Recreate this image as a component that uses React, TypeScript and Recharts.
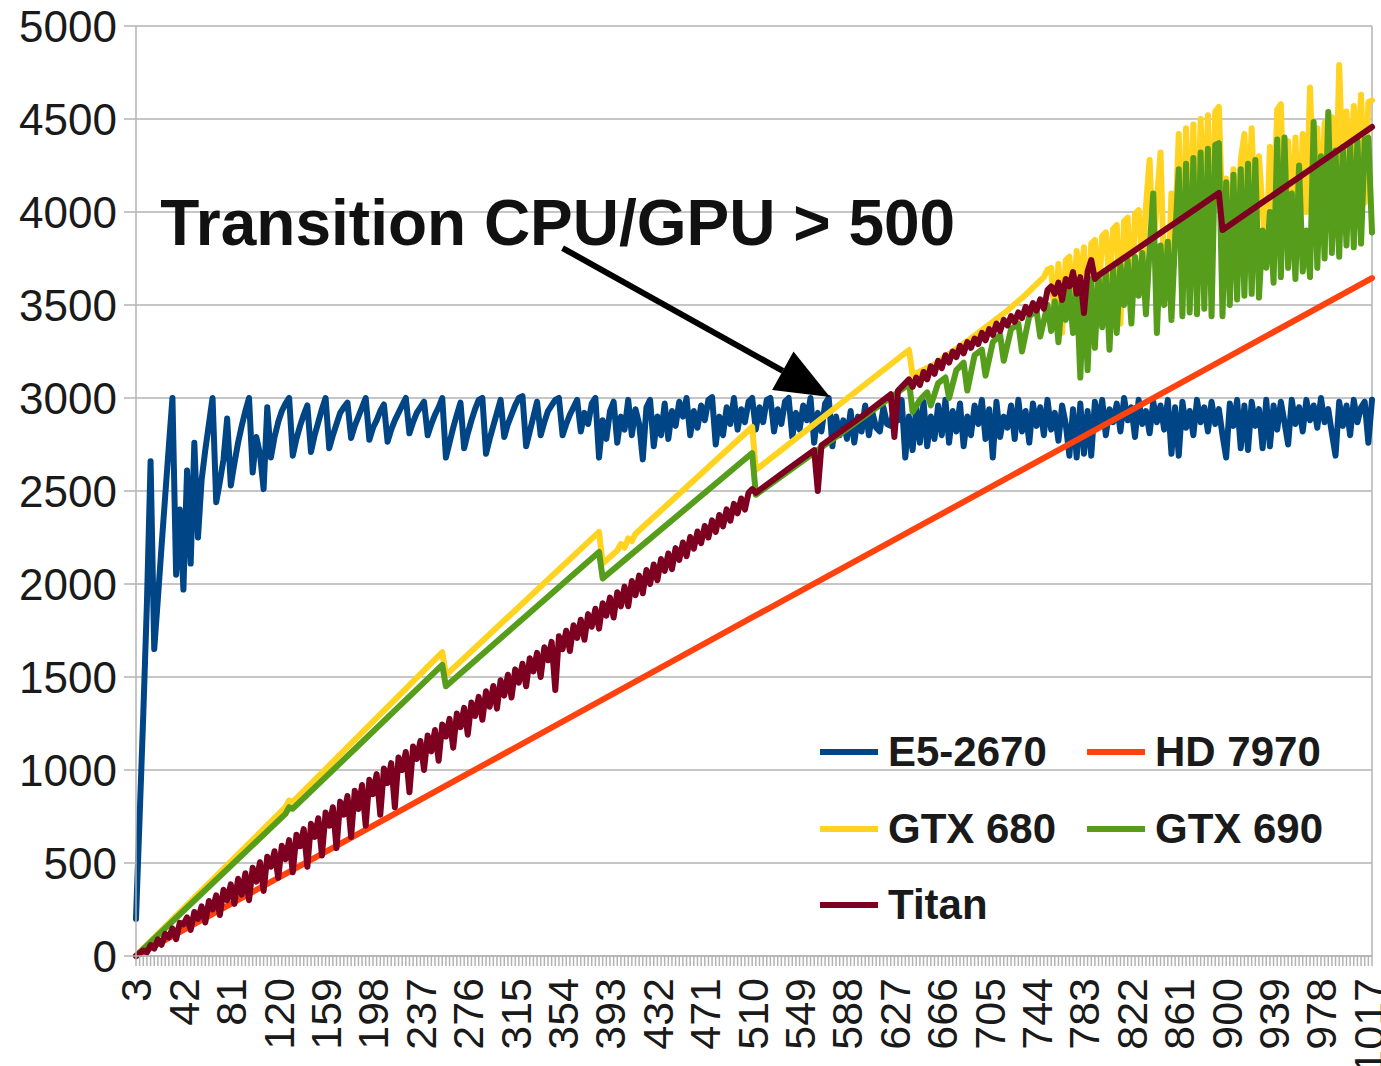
import React from 'react'
import { CartesianGrid, Legend, Line, LineChart, ReferenceDot, ReferenceLine, XAxis, YAxis } from 'recharts'

// problem sizes 3, 6, 9 ... 1020
const categories = Array.from({ length: 340 }, (_, i) => 3 + i * 3)
const xLabels = [3, 42, 81, 120, 159, 198, 237, 276, 315, 354, 393, 432, 471, 510, 549, 588, 627, 666, 705, 744, 783, 822, 861, 900, 939, 978, 1017]
const yTicks = [0, 500, 1000, 1500, 2000, 2500, 3000, 3500, 4000, 4500, 5000]

// E5-2670: one value per category
const e5_2670 = [
  200, 750, 1300, 1900, 2660, 1650, 1920, 2200, 2470, 2740, 3000, 2050, 2400, 1970, 2610, 2110, 2760, 2250, 2560, 2720,
  2860, 3000, 2440, 2550, 2670, 2890, 2530, 2650, 2760, 2850, 2930, 3000, 2600, 2790, 2700, 2510, 2950, 2680, 2790, 2870,
  2930, 2970, 3000, 2690, 2780, 2850, 2910, 2960, 2710, 2800, 2870, 2940, 3000, 2730, 2800, 2860, 2920, 2950, 2975, 2785,
  2850, 2900, 2950, 3000, 2775, 2840, 2880, 2930, 2965, 2765, 2830, 2880, 2920, 2960, 3000, 2810, 2870, 2920, 2950, 2980,
  2800, 2860, 2910, 2950, 3000, 2680, 2760, 2840, 2910, 2975, 2730, 2810, 2880, 2940, 2990, 3000, 2700, 2780, 2850, 2920,
  2990, 2790, 2860, 2910, 2960, 3000, 3010, 2740, 2820, 2900, 2980, 2800, 2870, 2930, 2960, 2990, 3000, 2800, 2860, 2910,
  2950, 2990, 2820, 2920, 2860, 2970, 3000, 2680, 2880, 2780, 2930, 2980, 2760, 2900, 2830, 2990, 2800, 2940, 2860, 2670,
  2950, 2990, 2740, 2900, 2800, 2970, 2780, 2930, 2850, 2980, 2900, 3000, 2800, 2930, 2840, 2960, 2880, 2990, 3005, 2750,
  2900, 2800, 2950, 2860, 3000, 2830, 2940, 2870, 2980, 3000, 2830, 2950, 2870, 2990, 3000, 2820, 2940, 2860, 2980, 3000,
  2790, 2920, 2830, 2960, 2880, 3000, 2760, 2920, 2820, 2970, 3000, 2740, 2900, 2800, 2880, 2780, 2930, 2760, 2900, 2820,
  2960, 2800, 2920, 2840, 2820, 2950, 2860, 2850, 2960, 2880, 2990, 2680, 2900, 2720, 2950, 2760, 2980, 2740, 2900, 2780,
  2960, 2800, 2990, 2760, 2930, 2820, 2970, 2740, 2900, 2800, 2960, 2860, 2990, 2780, 2940, 2680, 2980, 2790, 2900, 2840,
  2960, 2780, 2990, 2820, 2930, 2760, 2970, 2850, 2950, 2800, 2990, 2830, 2920, 2770, 2960, 2860, 2690, 2940, 2680, 2970,
  2700, 2930, 2690, 2980, 2850, 2990, 2800, 2940, 2870, 2970, 2820, 3000, 2880, 2950, 2790, 2990, 2860, 2930, 2810, 2980,
  2870, 2960, 2830, 2990, 2700, 2950, 2690, 2980, 2840, 2930, 2800, 2990, 2870, 2950, 2820, 2980, 2860, 2940, 2800, 2680,
  2970, 2850, 2990, 2730, 2960, 2720, 2980, 2850, 2940, 2730, 2990, 2740, 2960, 2830, 2980, 2870, 2750, 2990, 2860, 2950,
  2820, 2990, 2880, 2960, 2840, 3000, 2870, 2940, 2810, 2690, 2980, 2850, 2960, 2800, 2990, 2870, 2950, 2980, 2760, 2990,
]

// readings as [category, value]
const hd7970 = [[3, 0], [120, 420], [276, 980], [510, 1820], [783, 2795], [1020, 3645]]

const gtx680 = [
  [3, 0], [126, 800], [129, 836], [132, 828], [255, 1634], [258, 1510], [384, 2280], [387, 2110],
  [399, 2180], [402, 2215], [405, 2195], [408, 2245], [411, 2230], [414, 2270], [510, 2844], [513, 2613],
  [639, 3258], [642, 3124], [660, 3180], [675, 3250], [690, 3320], [705, 3395], [720, 3470], [735, 3555], [750, 3650],
  [753, 3690], [756, 3700], [759, 3420], [762, 3720], [765, 3350], [768, 3740], [771, 3760], [774, 3450], [777, 3790],
  [780, 3620], [783, 3810], [786, 3300], [789, 3830], [792, 3850], [795, 3520], [798, 3870], [801, 3890], [804, 3600],
  [807, 3910], [810, 3930], [813, 3400], [816, 3950], [819, 3970], [822, 3460], [825, 3990], [828, 4010], [831, 3700],
  [834, 4030], [837, 4280], [840, 3780], [843, 4060], [846, 4320], [849, 3650], [852, 3570], [855, 4100], [858, 3900],
  [861, 4420], [864, 3620], [867, 4450], [870, 3800], [873, 4470], [876, 3700], [879, 4500], [882, 3900], [885, 4520],
  [888, 3650], [891, 4540], [894, 4565], [897, 3960], [900, 4180], [903, 3900], [906, 4230], [909, 3800], [912, 4280],
  [915, 4420], [918, 3950], [921, 4450], [924, 3900], [927, 4300], [930, 4000], [933, 3760], [936, 4350], [939, 3950],
  [942, 4550], [945, 4580], [948, 3900], [951, 4380], [954, 3880], [957, 4400], [960, 3810], [963, 4420], [966, 4000],
  [969, 4670], [972, 4100], [975, 4450], [978, 3950], [981, 4480], [984, 4100], [987, 4510], [990, 4000], [993, 4790],
  [996, 4200], [999, 4540], [1002, 4100], [1005, 4570], [1008, 4300], [1011, 4630], [1014, 4050], [1017, 4590], [1020, 4600],
]

const gtx690 = [
  [3, 0], [126, 764], [129, 800], [132, 792], [255, 1565], [258, 1450], [384, 2172], [387, 2030], [510, 2704],
  [513, 2480], [636, 3060], [639, 3090], [642, 2925], [648, 2990], [654, 3030], [657, 2960], [663, 3080], [669, 3110],
  [672, 3000], [678, 3150], [684, 3190], [687, 3040], [693, 3230], [699, 3260], [702, 3120], [708, 3300], [714, 3340],
  [717, 3200], [723, 3370], [729, 3400], [732, 3250], [738, 3440], [744, 3470], [747, 3330], [753, 3500],
  [756, 3360], [759, 3520], [762, 3300], [765, 3550], [768, 3420], [771, 3580], [774, 3350], [777, 3600], [780, 3110],
  [783, 3620], [786, 3150], [789, 3640], [792, 3270], [795, 3660], [798, 3380], [801, 3680], [804, 3260], [807, 3700],
  [810, 3350], [813, 3720], [816, 3500], [819, 3740], [822, 3400], [825, 3760], [828, 3550], [831, 3780], [834, 3450],
  [837, 3800], [840, 4100], [843, 3350], [846, 3820], [849, 3500], [852, 3840], [855, 3420], [858, 3860], [861, 4230],
  [864, 3440], [867, 4260], [870, 3460], [873, 4290], [876, 3450], [879, 4320], [882, 3480], [885, 4340], [888, 3440],
  [891, 4360], [894, 4370], [897, 3440], [900, 4160], [903, 3500], [906, 4200], [909, 3530], [912, 4230], [915, 3550],
  [918, 4260], [921, 3560], [924, 4280], [927, 3540], [930, 3900], [933, 3700], [936, 4000], [939, 3620], [942, 4390],
  [945, 3650], [948, 4400], [951, 3700], [954, 4100], [957, 3640], [960, 4250], [963, 3680], [966, 3900], [969, 3650],
  [972, 4484], [975, 3700], [978, 4300], [981, 3750], [984, 4537], [987, 3780], [990, 4330], [993, 3760], [996, 4350],
  [999, 3820], [1002, 4370], [1005, 3810], [1008, 4380], [1011, 3830], [1014, 4390], [1017, 4400], [1020, 3890],
]

const titan = [
  [3, 0], [9, 30], [12, 20], [15, 59], [18, 40], [21, 89], [24, 60], [27, 119], [30, 100], [33, 148], [36, 90], [39, 178],
  [42, 170], [45, 207], [48, 140], [51, 237], [54, 200], [57, 267], [60, 180], [63, 296], [66, 250], [69, 326], [72, 220],
  [75, 356], [78, 300], [81, 385], [84, 280], [87, 415], [90, 330], [93, 445], [96, 300], [99, 474], [102, 400], [105, 504],
  [108, 350], [111, 534], [114, 480], [117, 563], [120, 420], [123, 593], [126, 520], [129, 623], [132, 450], [135, 652],
  [138, 590], [141, 682], [144, 480], [147, 711], [150, 640], [153, 741], [156, 540], [159, 771], [162, 700], [165, 800],
  [168, 580], [171, 830], [174, 760], [177, 860], [180, 640], [183, 889], [186, 790], [189, 919], [192, 700], [195, 948],
  [198, 870], [201, 978], [204, 760], [207, 1008], [210, 930], [213, 1037], [216, 800], [219, 1067], [222, 1000], [225, 1097],
  [228, 880], [231, 1126], [234, 1060], [237, 1156], [240, 1000], [243, 1186], [246, 1100], [249, 1215], [252, 1050], [255, 1245],
  [258, 1180], [261, 1275], [264, 1120], [267, 1304], [270, 1230], [273, 1334], [276, 1190], [279, 1363], [282, 1290], [285, 1393],
  [288, 1270], [291, 1423], [294, 1340], [297, 1452], [300, 1330], [303, 1482], [306, 1400], [309, 1512], [312, 1390], [315, 1541],
  [318, 1470], [321, 1571], [324, 1450], [327, 1601], [330, 1530], [333, 1630], [336, 1500], [339, 1660], [342, 1590], [345, 1689],
  [348, 1430], [351, 1719], [354, 1650], [357, 1749], [360, 1640], [363, 1778], [366, 1710], [369, 1808], [372, 1700], [375, 1838],
  [378, 1770], [381, 1867], [384, 1760], [387, 1897], [390, 1830], [393, 1927], [396, 1820], [399, 1956], [402, 1880], [405, 1986],
  [408, 1880], [411, 2016], [414, 1940], [417, 2045], [420, 1950], [423, 2075], [426, 2000], [429, 2105], [432, 2020], [435, 2134],
  [438, 2070], [441, 2164], [444, 2080], [447, 2193], [450, 2130], [453, 2223], [456, 2150], [459, 2253], [462, 2190], [465, 2282],
  [468, 2220], [471, 2312], [474, 2250], [477, 2342], [480, 2280], [483, 2371], [486, 2310], [489, 2401], [492, 2340], [495, 2431],
  [498, 2380], [501, 2460], [504, 2400], [507, 2490], [510, 2510], [513, 2490], [540, 2620], [561, 2720], [564, 2500], [567, 2745],
  [600, 2900], [624, 3020], [627, 2790], [630, 3040], [636, 3080], [639, 3100], [642, 3060], [645, 3110], [648, 3070], [651, 3140],
  [654, 3100], [657, 3170], [660, 3130], [663, 3200], [666, 3160], [669, 3230], [672, 3190], [675, 3250], [678, 3220], [681, 3280],
  [684, 3240], [687, 3300], [690, 3270], [693, 3320], [696, 3290], [699, 3350], [702, 3310], [705, 3370], [708, 3340], [711, 3400],
  [714, 3360], [717, 3420], [720, 3390], [723, 3440], [726, 3410], [729, 3460], [732, 3430], [735, 3490], [738, 3450], [741, 3510],
  [744, 3470], [747, 3530], [750, 3480], [753, 3580], [756, 3600], [759, 3560], [762, 3620], [765, 3527], [768, 3640], [771, 3600],
  [774, 3677], [777, 3560], [780, 3650], [783, 3457], [786, 3680], [789, 3742], [792, 3640], [795, 3660], [820, 3772], [850, 3906],
  [870, 3995], [894, 4102], [897, 3903], [930, 4052], [960, 4187], [990, 4322], [1020, 4457],
]

const annotation = { text: 'Transition CPU/GPU > 500', x: 23, y: 3823 }
const arrow = [{ x: 354, y: 3806 }, { x: 574, y: 3005 }]

const series = [
  { name: 'E5-2670', color: '#004586', points: categories.map((c, i) => ({ c, v: e5_2670[i] })) },
  { name: 'HD 7970', color: '#ff420e', points: hd7970.map(([c, v]) => ({ c, v })) },
  { name: 'GTX 680', color: '#ffd320', points: gtx680.map(([c, v]) => ({ c, v })) },
  { name: 'GTX 690', color: '#579d1c', points: gtx690.map(([c, v]) => ({ c, v })) },
  { name: 'Titan', color: '#7e0021', points: titan.map(([c, v]) => ({ c, v })) },
]

const FONT = '"Liberation Sans", Arial, sans-serif'

const XTick = (props: any) => {
  const { x, y, payload } = props
  if (!xLabels.includes(payload.value)) return null
  return (
    <text x={x} y={y} transform={`rotate(-90 ${x} ${y})`} textAnchor="end" dy="0.36em"
      fontSize={43} fill="#1a1a1a" fontFamily={FONT}>
      {payload.value}
    </text>
  )
}

const ArrowShape = (props: any) => {
  const { x1, y1, x2, y2 } = props
  const dx = x2 - x1, dy = y2 - y1
  const len = Math.sqrt(dx * dx + dy * dy)
  const ux = dx / len, uy = dy / len
  const bx = x2 - ux * 54, by = y2 - uy * 54
  return (
    <g>
      <line x1={x1} y1={y1} x2={bx} y2={by} stroke="#000" strokeWidth={6} />
      <polygon points={`${x2},${y2} ${bx - uy * 22},${by + ux * 22} ${bx + uy * 22},${by - ux * 22}`} fill="#000" />
    </g>
  )
}

const renderLegend = () => (
  <div style={{ display: 'grid', gridTemplateColumns: '267px 267px', fontFamily: FONT, fontWeight: 'bold', fontSize: 42, color: '#1a1a1a' }}>
    {series.map(s => (
      <div key={s.name} style={{ display: 'flex', alignItems: 'center', height: 76.5 }}>
        <span style={{ display: 'inline-block', width: 58, height: 6, background: s.color, marginRight: 10 }} />
        <span>{s.name}</span>
      </div>
    ))}
  </div>
)

export default function App() {
  return (
    <div style={{ position: 'absolute', left: 0, top: 0, width: 1381, height: 1066, background: '#fff' }}>
      <LineChart width={1381} height={1066} margin={{ top: 26, right: 9, left: 0, bottom: 0 }} style={{ fontFamily: FONT }}>
        <CartesianGrid vertical={false} stroke="#b3b3b3" strokeWidth={1.5} />
        <XAxis dataKey="c" type="number" domain={[3, 1020]} ticks={categories} interval={0} tick={<XTick />}
          tickSize={10} tickMargin={12} height={110} stroke="#b3b3b3" strokeWidth={1.5} />
        <YAxis type="number" domain={[0, 5000]} ticks={yTicks} interval={0} width={136} tickSize={12} tickMargin={7}
          tick={{ fontSize: 44, fill: '#1a1a1a', fontFamily: FONT }} stroke="#b3b3b3" strokeWidth={1.5} />
        <ReferenceLine x={1020} stroke="#b3b3b3" strokeWidth={1.5} />
        {series.map(s => (
          <Line key={s.name} data={s.points} dataKey="v" name={s.name} type="linear" stroke={s.color}
            strokeWidth={6} strokeLinejoin="round" strokeLinecap="round" dot={false} activeDot={false}
            isAnimationActive={false} />
        ))}
        <ReferenceLine segment={arrow} shape={<ArrowShape />} />
        <ReferenceDot x={annotation.x} y={annotation.y} r={0}
          shape={(p: any) => (
            <text x={p.cx} y={p.cy} fontSize={64} fontWeight="bold" fontFamily={FONT} fill="#111">{annotation.text}</text>
          )} />
        <Legend layout="horizontal" verticalAlign="middle" align="center" content={renderLegend}
          wrapperStyle={{ left: 820, top: 714, width: 560 }} />
      </LineChart>
    </div>
  )
}
